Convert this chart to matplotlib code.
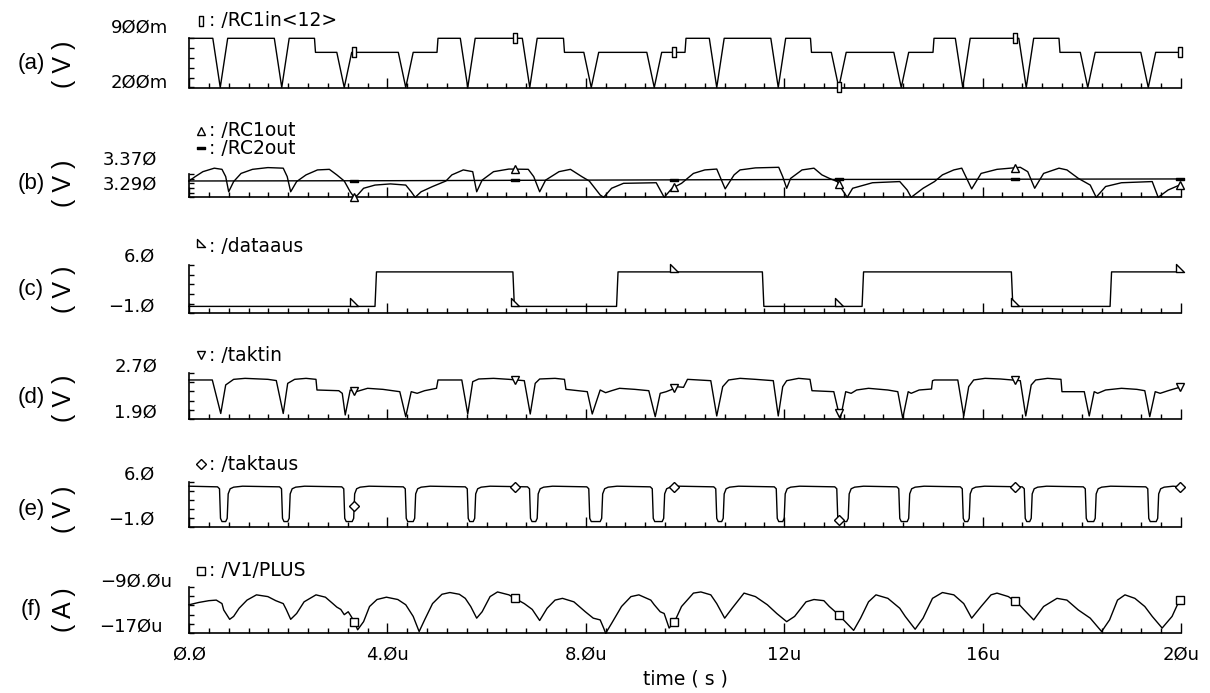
import numpy as np
import matplotlib
matplotlib.use("Agg")
import matplotlib.pyplot as plt
from matplotlib.path import Path
from matplotlib.lines import Line2D

W, H = 1210, 693

# ---------------- data (time in us) ----------------
time_ticks = [0, 4, 8, 12, 16, 20]
time_ticklabels = ["Ø.Ø", "4.Øu", "8.Øu", "12u", "16u", "2Øu"]
marker_times = [3.33, 6.57, 9.78, 13.1, 16.65, 19.97]

# (a) /RC1in<12>: clock dips and level steps
rc1in_dips = [0.63, 1.87, 3.13, 4.37, 5.62, 6.87, 8.11, 9.38, 10.64, 11.88,
              13.1, 14.36, 15.6, 16.88, 18.12, 19.34]
rc1in_steps = [2.53, 5.0, 7.55, 10.0, 12.53, 15.0, 17.54]
rc1in_high, rc1in_mid, rc1in_low = 0.9, 0.7, 0.2

# (b) /RC1out and /RC2out (V)
rc1out = [(0.0, 3.346), (0.125, 3.361), (0.28, 3.378), (0.51, 3.390), (0.665, 3.386),
          (0.74, 3.361), (0.80, 3.309), (0.90, 3.344), (1.05, 3.372), (1.28, 3.386),
          (1.59, 3.392), (1.90, 3.390), (1.98, 3.361), (2.05, 3.309), (2.17, 3.344),
          (2.36, 3.367), (2.59, 3.384), (2.83, 3.386), (2.98, 3.367), (3.13, 3.346),
          (3.25, 3.309), (3.33, 3.290), (3.40, 3.298), (3.52, 3.321), (3.75, 3.332),
          (4.06, 3.336), (4.37, 3.332), (4.48, 3.309), (4.56, 3.290), (4.68, 3.309),
          (4.91, 3.327), (5.18, 3.346), (5.30, 3.367), (5.53, 3.384), (5.72, 3.378),
          (5.80, 3.309), (5.91, 3.349), (6.14, 3.378), (6.45, 3.387), (6.84, 3.386),
          (6.95, 3.361), (7.07, 3.309), (7.19, 3.349), (7.46, 3.378), (7.69, 3.386),
          (7.92, 3.361), (8.07, 3.346), (8.29, 3.298), (8.36, 3.290), (8.52, 3.321),
          (8.76, 3.338), (9.42, 3.340), (9.50, 3.315), (9.58, 3.290), (9.74, 3.321),
          (9.93, 3.338), (10.17, 3.372), (10.40, 3.384), (10.64, 3.387), (10.81, 3.319),
          (10.99, 3.367), (11.11, 3.384), (11.42, 3.391), (11.89, 3.393), (11.97, 3.361),
          (12.05, 3.321), (12.13, 3.355), (12.36, 3.384), (12.60, 3.390), (12.76, 3.367),
          (12.91, 3.355), (13.07, 3.344), (13.15, 3.321), (13.27, 3.290), (13.38, 3.321),
          (13.78, 3.340), (14.33, 3.344), (14.48, 3.315), (14.56, 3.290), (14.80, 3.321),
          (15.03, 3.344), (15.19, 3.367), (15.42, 3.384), (15.58, 3.390), (15.78, 3.319),
          (15.97, 3.372), (16.29, 3.386), (16.76, 3.393), (16.91, 3.378), (17.05, 3.321),
          (17.23, 3.372), (17.54, 3.390), (17.70, 3.384), (17.93, 3.355), (18.17, 3.332),
          (18.29, 3.290), (18.48, 3.327), (18.80, 3.340), (19.42, 3.344), (19.54, 3.290),
          (19.74, 3.315), (19.97, 3.332)]
rc2out = [(0.0, 3.346), (4.0, 3.347), (8.0, 3.349), (12.0, 3.351), (16.0, 3.352), (20.0, 3.353)]

# (c) /dataaus
dataaus_rise = [3.75, 8.62, 13.57, 18.57]
dataaus_fall = [6.53, 11.56, 16.58]
dataaus_low, dataaus_high = 0.0, 5.0

# (d) /taktin (V)
taktin = [(0.0, 2.575), (0.47, 2.575), (0.64, 2.00), (0.74, 2.49), (0.90, 2.586),
          (1.13, 2.603), (1.59, 2.586), (1.76, 2.565), (1.90, 2.00), (1.99, 2.517),
          (2.13, 2.586), (2.36, 2.603), (2.56, 2.586), (2.58, 2.403), (3.02, 2.391),
          (3.09, 2.346), (3.15, 1.974), (3.25, 2.403), (3.37, 2.374), (3.60, 2.432),
          (3.91, 2.414), (4.25, 2.374), (4.37, 1.945), (4.48, 2.374), (4.60, 2.346),
          (4.75, 2.391), (4.99, 2.432), (5.02, 2.575), (5.50, 2.575), (5.62, 1.991),
          (5.72, 2.546), (5.84, 2.592), (6.14, 2.603), (6.45, 2.586), (6.76, 2.563),
          (6.88, 1.991), (6.98, 2.517), (7.07, 2.592), (7.38, 2.603), (7.57, 2.586),
          (7.60, 2.414), (8.03, 2.374), (8.13, 1.991), (8.29, 2.403), (8.40, 2.357),
          (8.52, 2.391), (8.68, 2.432), (8.99, 2.414), (9.27, 2.391), (9.40, 1.945),
          (9.50, 2.346), (9.62, 2.374), (9.74, 2.414), (9.82, 2.460), (9.97, 2.449),
          (10.05, 2.586), (10.52, 2.563), (10.64, 1.957), (10.76, 2.460), (10.88, 2.575),
          (11.11, 2.603), (11.42, 2.586), (11.78, 2.563), (11.88, 1.957), (11.97, 2.460),
          (12.05, 2.563), (12.29, 2.603), (12.52, 2.586), (12.56, 2.391), (13.0, 2.374),
          (13.13, 1.899), (13.24, 2.374), (13.35, 2.346), (13.46, 2.403), (13.70, 2.432),
          (14.09, 2.403), (14.29, 2.374), (14.39, 1.917), (14.50, 2.374), (14.56, 2.346),
          (14.72, 2.403), (14.97, 2.42), (14.99, 2.563), (15.03, 2.575), (15.50, 2.575),
          (15.62, 1.957), (15.72, 2.460), (15.82, 2.575), (16.05, 2.603), (16.36, 2.592),
          (16.76, 2.563), (16.87, 1.957), (16.98, 2.489), (17.07, 2.575), (17.31, 2.603),
          (17.58, 2.586), (17.60, 2.374), (18.05, 2.374), (18.15, 1.957), (18.25, 2.374),
          (18.32, 2.346), (18.48, 2.403), (18.80, 2.432), (19.11, 2.414), (19.27, 2.391),
          (19.37, 1.945), (19.48, 2.374), (19.58, 2.346), (19.74, 2.391), (19.97, 2.449)]

# (e) /taktaus: pulse edges
taktaus_fall = [0.625, 1.875, 3.13, 4.37, 5.62, 6.875, 8.07, 9.35, 10.63, 11.85,
                13.07, 14.32, 15.6, 16.85, 18.08, 19.34]
taktaus_rise = [0.78, 2.03, 3.33, 4.56, 5.77, 7.03, 8.33, 9.58, 10.78, 12.01,
                13.3, 14.52, 15.74, 16.99, 18.28, 19.54]
taktaus_low, taktaus_high = -0.2, 5.3

# (f) /V1/PLUS (uA)
v1plus = [(0.0, -121), (0.20, -117), (0.40, -114), (0.55, -113), (0.665, -119),
          (0.70, -130), (0.82, -146), (0.90, -141), (1.01, -127), (1.17, -113),
          (1.36, -104), (1.59, -107), (1.75, -114), (1.90, -119), (1.96, -129),
          (2.05, -146), (2.17, -136), (2.32, -116), (2.56, -104), (2.75, -108),
          (2.90, -119), (2.98, -125), (3.06, -129), (3.13, -138), (3.21, -133),
          (3.27, -141), (3.33, -150), (3.40, -164), (3.52, -150), (3.64, -124),
          (3.79, -112), (3.98, -108), (4.21, -112), (4.37, -121), (4.52, -141),
          (4.64, -167), (4.75, -147), (4.91, -119), (5.10, -103), (5.26, -100),
          (5.45, -103), (5.57, -110), (5.68, -124), (5.80, -144), (5.91, -133),
          (6.07, -107), (6.22, -99), (6.45, -104), (6.57, -110), (6.76, -119),
          (6.92, -129), (7.07, -148), (7.22, -127), (7.38, -113), (7.53, -110),
          (7.76, -116), (7.99, -133), (8.15, -144), (8.29, -147), (8.36, -161),
          (8.40, -170), (8.52, -153), (8.72, -124), (8.91, -107), (9.07, -104),
          (9.31, -113), (9.38, -121), (9.50, -133), (9.58, -136), (9.68, -161),
          (9.79, -150), (9.93, -124), (10.17, -101), (10.32, -99), (10.52, -104),
          (10.64, -119), (10.80, -144), (10.95, -127), (11.19, -101), (11.42, -107),
          (11.66, -121), (11.85, -136), (12.05, -150), (12.21, -141), (12.44, -116),
          (12.60, -112), (12.80, -114), (12.91, -124), (13.07, -136), (13.23, -150),
          (13.40, -165), (13.54, -144), (13.70, -116), (13.85, -104), (14.09, -110),
          (14.33, -127), (14.44, -141), (14.64, -163), (14.80, -144), (14.99, -110),
          (15.19, -100), (15.42, -104), (15.62, -119), (15.78, -144), (15.97, -124),
          (16.17, -104), (16.29, -101), (16.52, -107), (16.72, -119), (16.84, -130),
          (17.03, -147), (17.23, -124), (17.50, -110), (17.70, -113), (17.93, -130),
          (18.17, -144), (18.40, -167), (18.56, -147), (18.72, -113), (18.87, -104),
          (19.07, -110), (19.27, -124), (19.42, -141), (19.62, -161), (19.82, -141),
          (19.97, -113)]

panel_names = ["(a)", "(b)", "(c)", "(d)", "(e)", "(f)"]
unit_labels = ["( V )", "( V )", "( V )", "( V )", "( V )", "( A )"]
y_ranges = [(0.2, 0.9), (3.29, 3.37), (-1.0, 6.0), (1.9, 2.7), (-1.0, 6.0), (-170, -90)]
y_range_labels = [("9ØØm", "2ØØm"), ("3.37Ø", "3.29Ø"), ("6.Ø", "−1.Ø"),
                  ("2.7Ø", "1.9Ø"), ("6.Ø", "−1.Ø"), ("−9Ø.Øu", "−17Øu")]


# ---------------- waveform builders ----------------
def rc1in_wave():
    t, v = [0.0], [rc1in_high]
    level = rc1in_high
    events = sorted([(d, 0) for d in rc1in_dips] + [(s, 1) for s in rc1in_steps])
    for te, kind in events:
        if kind == 1:
            new = rc1in_mid if level == rc1in_high else rc1in_high
            t += [te, te + 0.02]
            v += [level, new]
            level = new
        else:
            t += [te - 0.15, te, te + 0.15]
            v += [level, rc1in_low, level]
    t.append(20.0)
    v.append(level)
    return np.array(t), np.array(v)


def edge_wave(rises, falls, lo, hi):
    t, v = [0.0], [lo]
    level = lo
    for te in sorted(rises + falls):
        new = hi if level == lo else lo
        t += [te, te + 0.03]
        v += [level, new]
        level = new
    t.append(20.0)
    v.append(level)
    return np.array(t), np.array(v)


def pulse_wave(falls, rises, lo, hi):
    t, v = [0.0], [hi]
    for tf, tr in zip(falls, rises):
        t += [tf - 0.05, tf - 0.01, tf + 0.01, tf + 0.04,
              tr - 0.04, tr - 0.01, tr + 0.01, tr + 0.05, tr + 0.12, tr + 0.3]
        v += [hi - 0.1, hi - 0.4, lo + 0.5, lo,
              lo, lo + 0.5, hi - 1.2, hi - 0.4, hi - 0.15, hi]
    t.append(20.0)
    v.append(hi - 0.1)
    return np.array(t), np.array(v)


def unzip(pairs):
    a = np.array(pairs, dtype=float)
    return a[:, 0], a[:, 1]


# ---------------- markers ----------------
m_rect = Path([(-0.4, -1), (0.4, -1), (0.4, 1), (-0.4, 1), (-0.4, -1)], closed=True)
m_bar = Path([(-1, -0.3), (1, -0.3), (1, 0.3), (-1, 0.3), (-1, -0.3)], closed=True)
m_corner = Path([(-0.5, 1), (-0.5, 0), (0.5, 0), (-0.5, 1)], closed=True)

traces = [
    (0, rc1in_wave(), dict(marker=m_rect, ms=7, mfc="white"), ": /RC1in<12>", 21),
    (1, unzip(rc1out), dict(marker="^", ms=6, mfc="white"), ": /RC1out", 131),
    (1, unzip(rc2out), dict(marker=m_bar, ms=6, mfc="black"), ": /RC2out", 148),
    (2, edge_wave(dataaus_rise, dataaus_fall, dataaus_low, dataaus_high),
     dict(marker=m_corner, ms=12, mfc="white"), ": /dataaus", 247),
    (3, unzip(taktin), dict(marker="v", ms=6, mfc="white"), ": /taktin", 355),
    (4, pulse_wave(taktaus_fall, taktaus_rise, taktaus_low, taktaus_high),
     dict(marker="D", ms=5, mfc="white"), ": /taktaus", 464),
    (5, unzip(v1plus), dict(marker="s", ms=6, mfc="white"), ": /V1/PLUS", 571),
]

# ---------------- layout (pixels) ----------------
x_left, x_right = 189, 1181
frames = [(38.3, 87.5), (174, 197.3), (265, 313.3), (372.7, 419.3), (481.7, 526.7), (586.7, 633.3)]
range_label_pos = [((168, 28), (168, 83)), ((157, 160), (157, 185)), ((155, 257), (155, 307)),
                   ((157, 367), (157, 413)), ((155, 475), (155, 520)), ((172, 582), (163, 627))]
name_dy = [1, -2, 0, 2, 5, 0]

plt.rcParams["font.family"] = "DejaVu Sans"
fig = plt.figure(figsize=(W / 100, H / 100), dpi=100)
fig.patch.set_facecolor("white")


def fx(x):
    return x / W


def fy(y):
    return 1 - y / H


axes = []
for i, (top, bot) in enumerate(frames):
    ax = fig.add_axes([fx(x_left), fy(bot), (x_right - x_left) / W, (bot - top) / H])
    ax.patch.set_alpha(0)
    ax.set_xlim(0, 20)
    ax.set_ylim(*y_ranges[i])
    ax.spines["top"].set_visible(False)
    ax.spines["right"].set_visible(False)
    for s in ("left", "bottom"):
        ax.spines[s].set_linewidth(1.2)
    ax.set_xticks(time_ticks)
    ax.set_xticks(np.arange(0, 20.01, 0.4), minor=True)
    ax.set_yticks(np.linspace(y_ranges[i][0], y_ranges[i][1], 6))
    ax.tick_params(axis="x", which="major", direction="in", length=7, width=1.0,
                   labelbottom=(i == 5), labelsize=13, pad=9)
    ax.tick_params(axis="x", which="minor", direction="in", length=3.5, width=1.0)
    ax.tick_params(axis="y", direction="in", length=3.5, width=1.0, labelleft=False)
    if i == 5:
        ax.set_xticklabels(time_ticklabels)
    axes.append(ax)

    mid = (top + bot) / 2 + name_dy[i]
    fig.text(fx(31), fy(mid), panel_names[i], ha="center", va="center",
             fontsize=16, family="Liberation Sans")
    fig.text(fx(64), fy(mid), unit_labels[i], ha="center", va="center",
             fontsize=18, family="Liberation Sans", rotation=90)
    (xt, yt), (xb, yb) = range_label_pos[i]
    fig.text(fx(xt), fy(yt), y_range_labels[i][0], ha="right", va="center", fontsize=13)
    fig.text(fx(xb), fy(yb), y_range_labels[i][1], ha="right", va="center", fontsize=13)

for idx, (t, v), style, name, ly in traces:
    ax = axes[idx]
    ax.plot(t, v, color="black", lw=1.0, clip_on=False, zorder=3)
    ax.plot(marker_times, np.interp(marker_times, t, v), linestyle="none",
            mec="black", mew=1.0, clip_on=False, zorder=4, **style)
    fig.add_artist(Line2D([fx(201)], [fy(ly)], transform=fig.transFigure, linestyle="none",
                          mec="black", mew=1.0, **style))
    fig.text(fx(209), fy(ly), name, ha="left", va="center", fontsize=13.5)

fig.text(fx((x_left + x_right) / 2), fy(679), "time ( s )", ha="center", va="center", fontsize=13.5)

fig.savefig("out.png", dpi=100, facecolor="white")
plt.close(fig)
